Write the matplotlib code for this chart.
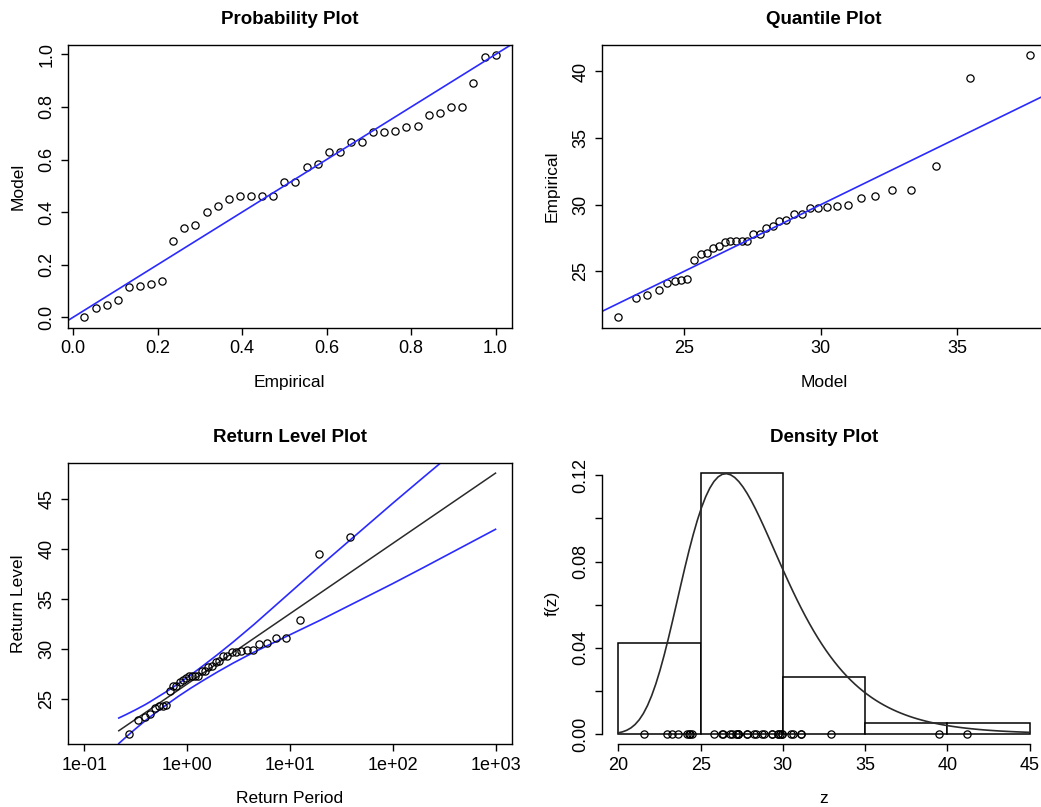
import numpy as np
import matplotlib
matplotlib.use("Agg")
import matplotlib.pyplot as plt

plt.rcParams['font.family'] = ['Liberation Sans', 'DejaVu Sans']

# ---------------- data ----------------
z_sorted = [21.56, 22.98, 23.23, 23.60, 24.15, 24.30, 24.38, 24.45, 25.84, 26.30,
            26.38, 26.79, 26.92, 27.17, 27.30, 27.30, 27.30, 27.30, 27.80, 27.80,
            28.25, 28.37, 28.75, 28.85, 29.34, 29.34, 29.72, 29.72, 29.82, 29.92,
            29.95, 30.52, 30.64, 31.12, 31.12, 32.94, 39.50, 41.20]

prob_empirical = [0.026, 0.053, 0.079, 0.105, 0.132, 0.158, 0.184, 0.211, 0.237, 0.263,
                  0.289, 0.316, 0.342, 0.368, 0.395, 0.421, 0.447, 0.474, 0.500, 0.526,
                  0.553, 0.579, 0.605, 0.632, 0.658, 0.684, 0.711, 0.737, 0.763, 0.789,
                  0.816, 0.842, 0.868, 0.895, 0.921, 0.947, 0.974, 1.000]

prob_model = [0.000, 0.035, 0.048, 0.066, 0.114, 0.120, 0.125, 0.139, 0.291, 0.339,
              0.352, 0.400, 0.425, 0.448, 0.461, 0.461, 0.461, 0.461, 0.515, 0.515,
              0.571, 0.582, 0.627, 0.630, 0.668, 0.668, 0.704, 0.704, 0.710, 0.722,
              0.728, 0.771, 0.777, 0.801, 0.801, 0.892, 0.991, 0.996]

quant_model = [22.60, 23.25, 23.65, 24.07, 24.38, 24.66, 24.90, 25.12, 25.37, 25.61,
               25.86, 26.07, 26.27, 26.49, 26.68, 26.92, 27.13, 27.31, 27.54, 27.77,
               28.02, 28.25, 28.48, 28.73, 29.02, 29.33, 29.61, 29.91, 30.24, 30.59,
               31.01, 31.48, 32.01, 32.60, 33.30, 34.23, 35.48, 37.65]

rl_point_period = [0.273, 0.337, 0.390, 0.439, 0.487, 0.534, 0.582, 0.631, 0.682, 0.735,
                   0.790, 0.848, 0.910, 0.976, 1.047, 1.122, 1.204, 1.293, 1.391, 1.498,
                   1.616, 1.747, 1.894, 2.060, 2.249, 2.466, 2.720, 3.018, 3.375, 3.811,
                   4.355, 5.055, 5.985, 7.289, 9.241, 12.50, 19.00, 38.50]

# fitted GEV parameters (location, scale, shape)
gev_mu = 26.53
gev_sigma = 3.045
gev_xi = 0.0

# return-level curve: non-exceedance probabilities and 95% half-widths
rl_f = [0.01, 0.02, 0.03, 0.04, 0.05, 0.06, 0.07, 0.08, 0.09, 0.1,
        0.2, 0.3, 0.4, 0.5, 0.6, 0.7, 0.8, 0.9, 0.95, 0.99, 0.995, 0.999]
rl_halfwidth = [1.27, 1.12, 1.03, 0.96, 0.91, 0.87, 0.83, 0.80, 0.78, 0.76,
                0.66, 0.63, 0.66, 0.74, 0.86, 1.05, 1.38, 2.05, 2.70, 4.00, 4.50, 5.60]

hist_breaks = [20, 25, 30, 35, 40, 45]

prob_ticks = [0.0, 0.2, 0.4, 0.6, 0.8, 1.0]
prob_ticklabels = ['0.0', '0.2', '0.4', '0.6', '0.8', '1.0']
quant_ticks = [25, 30, 35, 40]
rl_xticks = [0.1, 1, 10, 100, 1000]
rl_xticklabels = ['1e-01', '1e+00', '1e+01', '1e+02', '1e+03']
rl_yticks = [25, 30, 35, 40, 45]
dens_xticks = [20, 25, 30, 35, 40, 45]
dens_yticks = [0.00, 0.02, 0.04, 0.06, 0.08, 0.10, 0.12]
dens_yticklabels = ['0.00', '', '0.04', '', '0.08', '', '0.12']


# ---------------- helpers ----------------
def gev_quantile(p):
    p = np.asarray(p, float)
    if gev_xi == 0:
        return gev_mu - gev_sigma * np.log(-np.log(p))
    return gev_mu - gev_sigma / gev_xi * (1 - (-np.log(p)) ** (-gev_xi))


def gev_density(x):
    x = np.asarray(x, float)
    if gev_xi == 0:
        t = np.exp(-(x - gev_mu) / gev_sigma)
    else:
        t = (1 + gev_xi * (x - gev_mu) / gev_sigma) ** (-1 / gev_xi)
    return t ** (gev_xi + 1) * np.exp(-t) / gev_sigma


def r_range(vals):
    lo, hi = float(np.min(vals)), float(np.max(vals))
    d = (hi - lo) * 0.04
    return lo - d, hi + d


W, H = 1041, 807
fig = plt.figure(figsize=(W / 100, H / 100), dpi=100)
fig.patch.set_facecolor('white')


def make_ax(x0, y0, x1, y1):
    return fig.add_axes([x0 / W, 1 - y1 / H, (x1 - x0) / W, (y1 - y0) / H])


TICK_FS = 13
LAB_FS = 12.5
TITLE_FS = 13.5
BLUE = '#2a2aff'


def style(ax, title, xlabel, ylabel, box=True):
    ax.set_title(title, fontsize=TITLE_FS, fontweight='bold', pad=15)
    ax.set_xlabel(xlabel, fontsize=LAB_FS, labelpad=12.5)
    ax.set_ylabel(ylabel, fontsize=LAB_FS, labelpad=9)
    ax.tick_params(direction='out', length=5, width=1, labelsize=TICK_FS, pad=4, color='black')
    for lab in ax.get_yticklabels():
        lab.set_rotation(90)
        lab.set_va('center')
    for s in ax.spines.values():
        s.set_linewidth(1.0)
        s.set_color('black')
    if not box:
        for s in ('top', 'right'):
            ax.spines[s].set_visible(False)


circ = dict(marker='o', ms=5.2, mfc='none', mec='black', mew=0.9, ls='none')

LX0, LX1 = 67.7, 512.0
RX0, RX1 = 602.0, 1046.0
TY0, TY1 = 45.0, 327.7
BY0, BY1 = 462.7, 744.4

# ---- Probability plot ----
ax1 = make_ax(LX0, TY0, LX1, TY1)
ax1.plot(prob_empirical, prob_model, **circ)
ax1.axline((0, 0), slope=1, color=BLUE, lw=1.2)
ax1.set_xticks(prob_ticks, prob_ticklabels)
ax1.set_yticks(prob_ticks, prob_ticklabels)
ax1.set_xlim(r_range(prob_empirical))
ax1.set_ylim(r_range(prob_model))
style(ax1, 'Probability Plot', 'Empirical', 'Model')

# ---- Quantile plot ----
ax2 = make_ax(RX0, TY0, RX1, TY1)
ax2.plot(quant_model, z_sorted, **circ)
ax2.axline((25, 25), slope=1, color=BLUE, lw=1.2)
ax2.set_xticks(quant_ticks)
ax2.set_yticks(quant_ticks)
ax2.set_xlim(r_range(quant_model))
ax2.set_ylim(r_range(z_sorted))
style(ax2, 'Quantile Plot', 'Model', 'Empirical')

# ---- Return level plot ----
ax3 = make_ax(LX0, BY0, LX1, BY1)
rl_f_arr = np.array(rl_f)
rl_period = -1 / np.log(rl_f_arr)
rl_q = gev_quantile(rl_f_arr)
hw = np.array(rl_halfwidth)
ax3.set_xscale('log')
ax3.plot(rl_period, rl_q, color='#2a2a2a', lw=1.1)
ax3.plot(rl_period, rl_q + hw, color=BLUE, lw=1.2)
ax3.plot(rl_period, rl_q - hw, color=BLUE, lw=1.2)
ax3.plot(rl_point_period, z_sorted, **circ)
ax3.set_xticks(rl_xticks, rl_xticklabels)
ax3.minorticks_off()
ax3.set_yticks(rl_yticks)
lx = np.log10([0.1, 1000])
d = (lx[1] - lx[0]) * 0.04
ax3.set_xlim(10 ** (lx[0] - d), 10 ** (lx[1] + d))
ax3.set_ylim(r_range(np.concatenate([z_sorted, rl_q])))
style(ax3, 'Return Level Plot', 'Return Period', 'Return Level')

# ---- Density plot ----
ax4 = make_ax(RX0, BY0, RX1, BY1)
counts, _, _ = ax4.hist(z_sorted, bins=hist_breaks, density=True,
                        facecolor='white', edgecolor='black', linewidth=1.1)
xs = np.linspace(hist_breaks[0], hist_breaks[-1], 100)
ys = gev_density(xs)
ax4.plot(xs, ys, color='#2a2a2a', lw=1.2)
ax4.plot(z_sorted, np.zeros(len(z_sorted)), clip_on=False, **circ)
ax4.set_xticks(dens_xticks)
ax4.set_yticks(dens_yticks, dens_yticklabels)
ax4.set_xlim(r_range(hist_breaks))
ax4.set_ylim(r_range([0, max(counts.max(), ys.max())]))
style(ax4, 'Density Plot', 'z', 'f(z)', box=False)
ax4.spines['bottom'].set_bounds(hist_breaks[0], hist_breaks[-1])
ax4.spines['left'].set_bounds(dens_yticks[0], dens_yticks[-1])

fig.savefig('out.png', dpi=100, facecolor='white')
